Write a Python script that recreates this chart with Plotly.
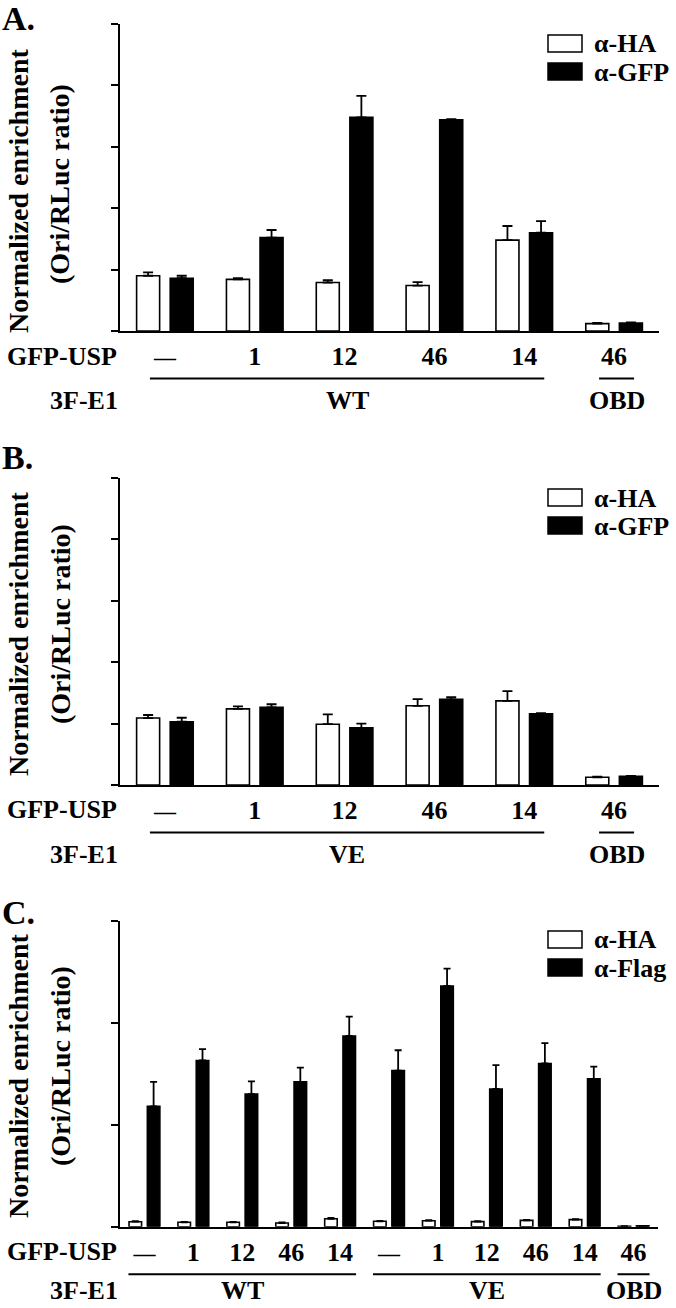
import plotly.graph_objects as go

# ---------------- data ----------------
A_labels = ["—", "1", "12", "46", "14", "46"]
A_ha = [0.90, 0.84, 0.79, 0.74, 1.48, 0.12]
A_ha_err = [0.055, 0.02, 0.04, 0.055, 0.23, 0.01]
A_gfp = [0.86, 1.52, 3.48, 3.44, 1.60, 0.13]
A_gfp_err = [0.04, 0.125, 0.35, 0.01, 0.19, 0.01]
A_groups = [("WT", 0, 4), ("OBD", 5, 5)]

B_labels = ["—", "1", "12", "46", "14", "46"]
B_ha = [1.09, 1.24, 0.99, 1.29, 1.37, 0.125]
B_ha_err = [0.05, 0.04, 0.16, 0.11, 0.16, 0.01]
B_gfp = [1.03, 1.265, 0.93, 1.395, 1.16, 0.14]
B_gfp_err = [0.065, 0.05, 0.07, 0.035, 0.01, 0.01]
B_groups = [("VE", 0, 4), ("OBD", 5, 5)]

C_labels = ["—", "1", "12", "46", "14", "—", "1", "12", "46", "14", "46"]
C_ha = [0.049, 0.043, 0.043, 0.036, 0.078, 0.053, 0.059, 0.050, 0.062, 0.069, 0.005]
C_ha_err = [0.005, 0.005, 0.005, 0.005, 0.008, 0.005, 0.005, 0.005, 0.005, 0.006, 0.0]
C_flag = [1.18, 1.63, 1.30, 1.42, 1.87, 1.53, 2.36, 1.35, 1.60, 1.45, 0.008]
C_flag_err = [0.24, 0.11, 0.125, 0.14, 0.19, 0.20, 0.17, 0.235, 0.20, 0.12, 0.0]
C_groups = [("WT", 0, 4), ("VE", 5, 9), ("OBD", 10, 10)]

# ---------------- style ----------------
W, H = 676, 1308
FONT = "Liberation Serif, Times New Roman, serif"
FS = 26


def px(x):
    return x / W


def py(y):
    return 1 - y / H


def tick_text(labels):
    return ["<span style='font-size:22px'>—</span>" if t == "—" else t for t in labels]


panels = [
    dict(name="A.", labels=A_labels, ha=A_ha, ha_err=A_ha_err, s2=A_gfp, s2_err=A_gfp_err,
         s2name="α-GFP", groups=A_groups, ymax=5, dom_x=(120, 659), dom_y=(24, 331),
         cap=5, pad=(15, 20), title_y=(191, 184), label_y=18, leg_y=35, row2=69),
    dict(name="B.", labels=B_labels, ha=B_ha, ha_err=B_ha_err, s2=B_gfp, s2_err=B_gfp_err,
         s2name="α-GFP", groups=B_groups, ymax=5, dom_x=(120, 659), dom_y=(478, 785),
         cap=5, pad=(15, 20), title_y=(634, 624), label_y=457, leg_y=489, row2=69),
    dict(name="C.", labels=C_labels, ha=C_ha, ha_err=C_ha_err, s2=C_flag, s2_err=C_flag_err,
         s2name="α-Flag", groups=C_groups, ymax=3, dom_x=(120, 658), dom_y=(920.7, 1226.7),
         cap=3.5, pad=(16, 16), title_y=(1076, 1066), label_y=912, leg_y=931, row2=64),
]

fig = go.Figure()
shapes = []
annotations = []
layout_axes = {}


def txt(text, x, y, xanchor="center", size=FS, angle=0, xref="paper"):
    annotations.append(dict(text=text, x=x, y=y, xref=xref, yref="paper",
                            xanchor=xanchor, yanchor="middle", showarrow=False,
                            textangle=angle,
                            font=dict(family=FONT, size=size, color="black", weight="bold")))


for i, p in enumerate(panels, start=1):
    xa = "x" if i == 1 else f"x{i}"
    ya = "y" if i == 1 else f"y{i}"
    n = len(p["labels"])
    xs = list(range(n))
    fig.add_trace(go.Bar(
        x=xs, y=p["ha"], xaxis=xa, yaxis=ya, name="α-HA", showlegend=False,
        marker=dict(color="white", line=dict(color="black", width=1.6)),
        error_y=dict(type="data", array=p["ha_err"], arrayminus=[0] * n, symmetric=False,
                     color="black", thickness=1.8, width=p["cap"]),
    ))
    fig.add_trace(go.Bar(
        x=xs, y=p["s2"], xaxis=xa, yaxis=ya, name=p["s2name"], showlegend=False,
        marker=dict(color="black", line=dict(color="black", width=1.6)),
        error_y=dict(type="data", array=p["s2_err"], arrayminus=[0] * n, symmetric=False,
                     color="black", thickness=1.8, width=p["cap"]),
    ))
    x0, x1 = p["dom_x"]
    y0, y1 = p["dom_y"]
    key = "" if i == 1 else str(i)
    layout_axes[f"xaxis{key}"] = dict(
        domain=[px(x0), px(x1)], anchor=ya, range=[-0.5, n - 0.5],
        showline=True, linecolor="black", linewidth=2, ticks="",
        tickvals=xs, ticktext=tick_text(p["labels"]), ticklabelstandoff=1,
        tickfont=dict(family=FONT, size=FS, color="black", weight="bold"),
        showgrid=False, zeroline=False, fixedrange=True,
    )
    layout_axes[f"yaxis{key}"] = dict(
        domain=[py(y1), py(y0)], anchor=xa, range=[0, p["ymax"]],
        tick0=0, dtick=1, ticks="outside", ticklen=7, tickwidth=2, tickcolor="black",
        showticklabels=False, showline=True, linecolor="black", linewidth=2,
        showgrid=False, zeroline=False, fixedrange=True,
    )

    ppu = (x1 - x0) / n  # pixels per category
    # row labels
    txt("GFP-USP", px(119), py(y1 + 25), xanchor="right")
    txt("3F-E1", px(120), py(y1 + p["row2"]), xanchor="right")
    for gname, g0, g1 in p["groups"]:
        ga = g0 - p["pad"][0] / ppu
        gb = g1 + p["pad"][1] / ppu
        shapes.append(dict(type="line", xref=xa, yref="paper", x0=ga, x1=gb,
                           y0=py(y1 + 47.5), y1=py(y1 + 47.5),
                           line=dict(color="black", width=2)))
        annotations.append(dict(text=gname, x=(ga + gb) / 2, y=py(y1 + p["row2"]), xref=xa,
                                yref="paper", xanchor="center", yanchor="middle",
                                showarrow=False,
                                font=dict(family=FONT, size=FS, color="black", weight="bold")))
    # panel letter
    txt(p["name"], px(0), py(p["label_y"]), xanchor="left", size=34)
    # y titles
    txt("Normalized enrichment", px(18), py(p["title_y"][0]), angle=-90, size=28)
    txt("(Ori/RLuc ratio)", px(60), py(p["title_y"][1]), angle=-90, size=28)
    # legend
    ly = p["leg_y"]
    for j, (nm, col) in enumerate([("α-HA", "white"), (p["s2name"], "black")]):
        top = ly + j * 28
        shapes.append(dict(type="rect", xref="paper", yref="paper",
                           x0=px(548), x1=px(582), y0=py(top + 17), y1=py(top),
                           fillcolor=col, line=dict(color="black", width=1.5)))
        txt(nm, px(592), py(top + 9), xanchor="left")

fig.update_layout(
    width=W, height=H, margin=dict(l=0, r=0, t=0, b=0),
    paper_bgcolor="white", plot_bgcolor="white",
    barmode="group", bargap=0.252, bargroupgap=0.315,
    showlegend=False, shapes=shapes, annotations=annotations,
    font=dict(family=FONT, color="black"),
    **layout_axes,
)

fig.write_html(
    "out.html",
    config={"displayModeBar": False},
    post_script="document.body.style.margin='0';document.body.style.padding='0';"
                "document.body.style.overflow='hidden';",
)
